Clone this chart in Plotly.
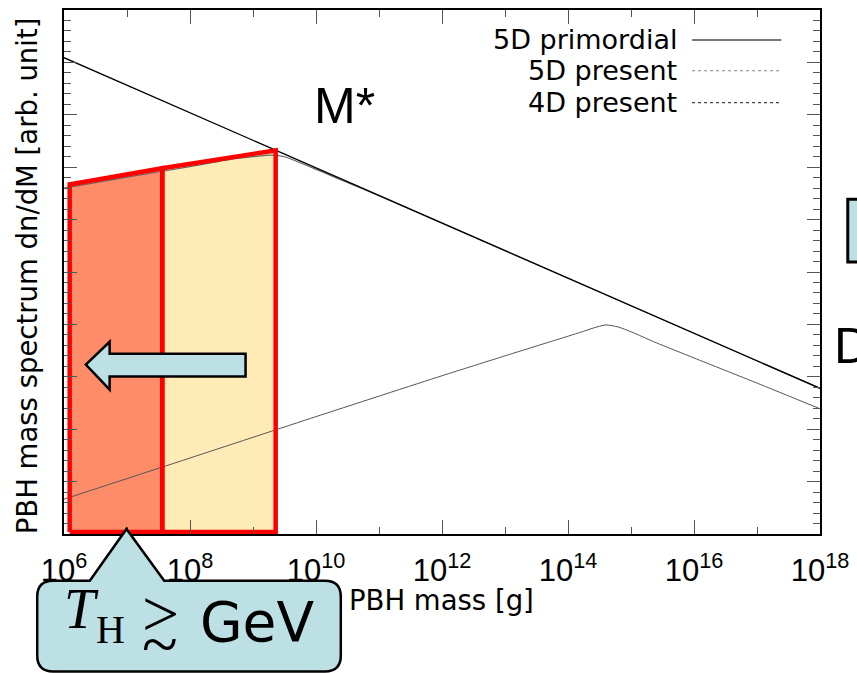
import plotly.graph_objects as go

# ---------------- data ----------------
# log10 of PBH mass [g] and log-spectrum values (arb. units, axis 0..10)
primordial_logM = [6.0, 18.0]
primordial_val = [9.09, 2.78]

present5d_logM = [6.0, 7.0, 8.0, 8.6, 9.0, 9.3, 9.5, 9.7, 9.9, 10.1, 10.4, 11.0, 18.0]
present5d_val = [6.60, 6.81, 7.01, 7.14, 7.20, 7.23, 7.20, 7.11, 7.01, 6.91, 6.755, 6.455, 2.78]

present4d_logM = [6.0, 8.0, 10.0, 12.0, 13.0, 13.8, 14.2, 14.4, 14.6, 14.8, 15.0, 15.4, 16.0, 17.0, 18.0]
present4d_val = [0.665, 1.45, 2.24, 3.02, 3.40, 3.70, 3.85, 3.93, 3.99, 3.95, 3.86, 3.65, 3.36, 2.88, 2.39]

# highlighted mass windows (log10 M edges) and top edge values
window_logM = [6.09, 7.56, 9.36]
window_top = [6.67, 6.98, 7.32]
window_bottom = 0.04

xtick_exp = [6, 8, 10, 12, 14, 16, 18]
xminor_exp = [7, 9, 11, 13, 15, 17]

series_names = ["5D primordial", "5D present", "4D present"]

# ---------------- figure geometry ----------------
W, H = 857, 673
L, R, T, B = 64, 826, 8, 534


def pxx(x):
    return (x - L) / (R - L)


def pxy(y):
    return (B - y) / (B - T)


def M(v):
    return [10 ** a for a in v]


fig = go.Figure()

# window fills
fig.add_trace(go.Scatter(
    x=M([window_logM[0], window_logM[1], window_logM[1], window_logM[0], window_logM[0]]),
    y=[window_bottom, window_bottom, window_top[1], window_top[0], window_bottom],
    fill="toself", fillcolor="rgb(255,140,105)", mode="lines",
    line=dict(width=0), showlegend=False, hoverinfo="skip"))
fig.add_trace(go.Scatter(
    x=M([window_logM[1], window_logM[2], window_logM[2], window_logM[1], window_logM[1]]),
    y=[window_bottom, window_bottom, window_top[2], window_top[1], window_bottom],
    fill="toself", fillcolor="rgb(255,235,182)", mode="lines",
    line=dict(width=0), showlegend=False, hoverinfo="skip"))

# curves
fig.add_trace(go.Scatter(x=M(present4d_logM), y=present4d_val, mode="lines",
                         line=dict(color="#555555", width=1, shape="spline", smoothing=0.6),
                         name=series_names[2], showlegend=False))
fig.add_trace(go.Scatter(x=M(present5d_logM), y=present5d_val, mode="lines",
                         line=dict(color="#666666", width=1.2, shape="spline", smoothing=0.6),
                         name=series_names[1], showlegend=False))
fig.add_trace(go.Scatter(x=M(primordial_logM), y=primordial_val, mode="lines",
                         line=dict(color="#000000", width=1.3),
                         name=series_names[0], showlegend=False))

# window red outlines
for i0, i1 in [(0, 1), (1, 2)]:
    fig.add_trace(go.Scatter(
        x=M([window_logM[i0], window_logM[i1], window_logM[i1], window_logM[i0], window_logM[i0]]),
        y=[window_bottom, window_bottom, window_top[i1], window_top[i0], window_bottom],
        mode="lines", line=dict(color="#ff0000", width=4.5),
        showlegend=False, hoverinfo="skip"))

shapes = []
annotations = []

# legend (gnuplot-like: text then sample line)
leg_y = [38, 69, 101]
leg_style = [dict(color="#777777", width=2, dash="solid"),
             dict(color="#888888", width=1.2, dash="dot"),
             dict(color="#444444", width=1.2, dash="dot")]
for name, yy, st in zip(series_names, leg_y, leg_style):
    annotations.append(dict(x=pxx(684), y=pxy(yy), xref="paper", yref="paper",
                            text=name, showarrow=False, xanchor="right", yanchor="middle",
                            font=dict(family="DejaVu Sans", size=27, color="black")))
    shapes.append(dict(type="line", xref="paper", yref="paper",
                       x0=pxx(697), x1=pxx(787), y0=pxy(yy), y1=pxy(yy),
                       line=st, layer="above"))

# M* label
annotations.append(dict(x=pxx(314), y=pxy(104), xref="paper", yref="paper", text="M*",
                        showarrow=False, xanchor="left", yanchor="middle",
                        font=dict(family="Liberation Sans", size=50, color="black")))

# axis titles
annotations.append(dict(x=pxx(444), y=pxy(600), xref="paper", yref="paper", text="PBH mass [g]",
                        showarrow=False, xanchor="center", yanchor="middle",
                        font=dict(family="DejaVu Sans", size=27.5, color="black")))
annotations.append(dict(x=pxx(27), y=pxy(275), xref="paper", yref="paper",
                        text="PBH mass spectrum dn/dM [arb. unit]", textangle=-90,
                        showarrow=False, xanchor="center", yanchor="middle",
                        font=dict(family="DejaVu Sans", size=27.5, color="black")))

# left arrow
arrow_pts = [(86, 364), (110, 341), (110, 353), (247, 353), (247, 376), (110, 376), (110, 389)]
path = "M " + " L ".join(f"{pxx(a):.5f},{pxy(b):.5f}" for a, b in arrow_pts) + " Z"
shapes.append(dict(type="path", xref="paper", yref="paper", path=path,
                   fillcolor="rgb(188,224,227)", line=dict(color="black", width=2.5), layer="above"))

# callout box with pointer
x0, x1, y0, y1, r = 37, 343, 581, 672, 16


def P(a, b):
    return f"{pxx(a):.5f},{pxy(b):.5f}"


cpath = (f"M {P(90, y0)} L {P(127, 529)} L {P(165, y0)} L {P(x1 - r, y0)} "
         f"Q {P(x1, y0)} {P(x1, y0 + r)} L {P(x1, y1 - r)} Q {P(x1, y1)} {P(x1 - r, y1)} "
         f"L {P(x0 + r, y1)} Q {P(x0, y1)} {P(x0, y1 - r)} L {P(x0, y0 + r)} "
         f"Q {P(x0, y0)} {P(x0 + r, y0)} Z")
shapes.append(dict(type="path", xref="paper", yref="paper", path=cpath,
                   fillcolor="rgb(188,224,227)", line=dict(color="black", width=2.5), layer="above"))

annotations.append(dict(x=pxx(62), y=pxy(642), xref="paper", yref="paper", text="<i>T</i>",
                        showarrow=False, xanchor="left", yanchor="bottom", yshift=0,
                        font=dict(family="Liberation Serif", size=56, color="black")))
annotations.append(dict(x=pxx(94), y=pxy(654), xref="paper", yref="paper", text="H",
                        showarrow=False, xanchor="left", yanchor="bottom",
                        font=dict(family="Liberation Serif", size=40, color="black")))
# "greater than or approximately" drawn as > over ~
annotations.append(dict(x=pxx(161), y=pxy(614), xref="paper", yref="paper", text="&gt;",
                        showarrow=False, xanchor="center", yanchor="middle",
                        font=dict(family="Liberation Serif", size=66, color="black")))
annotations.append(dict(x=pxx(161), y=pxy(644), xref="paper", yref="paper", text="~",
                        showarrow=False, xanchor="center", yanchor="middle",
                        font=dict(family="Liberation Serif", size=66, color="black")))
annotations.append(dict(x=pxx(199), y=pxy(622), xref="paper", yref="paper", text="GeV",
                        showarrow=False, xanchor="left", yanchor="middle",
                        font=dict(family="DejaVu Sans", size=55, color="black")))

# cropped slide elements at right edge
shapes.append(dict(type="rect", xref="paper", yref="paper", x0=pxx(854), x1=pxx(900),
                   y0=pxy(261), y1=pxy(198), fillcolor="rgb(188,224,227)",
                   line=dict(color="black", width=3), layer="above"))
annotations.append(dict(x=pxx(838), y=pxy(345), xref="paper", yref="paper", text="D",
                        showarrow=False, xanchor="left", yanchor="middle",
                        font=dict(family="Liberation Sans", size=50, color="black")))

fig.update_layout(
    width=W, height=H,
    margin=dict(l=L, r=W - R, t=T, b=H - B, pad=0),
    paper_bgcolor="white", plot_bgcolor="white",
    shapes=shapes, annotations=annotations, showlegend=False,
    xaxis=dict(type="log", range=[6, 18],
               tickvals=[10 ** e for e in xtick_exp],
               ticktext=[f"10<sup>{e}</sup>" for e in xtick_exp],
               ticks="inside", ticklen=14, tickwidth=1, tickcolor="#555555",
               minor=dict(tickvals=[10 ** e for e in xminor_exp], ticks="inside",
                          ticklen=7, tickwidth=1, tickcolor="#555555"),
               showline=True, linecolor="black", linewidth=1.5, mirror="ticks",
               showgrid=False, zeroline=False, ticklabelstandoff=8,
               tickfont=dict(family="Liberation Sans", size=31, color="black")),
    yaxis=dict(range=[0, 10], tick0=0, dtick=1,
               ticks="inside", ticklen=13, tickwidth=1, tickcolor="#555555",
               minor=dict(dtick=0.2, tick0=0, ticks="inside", ticklen=7, tickwidth=1,
                          tickcolor="#555555"),
               showline=True, linecolor="black", linewidth=1.5, mirror="ticks",
               showgrid=False, zeroline=False, showticklabels=False),
)

fig.write_html("out.html")
